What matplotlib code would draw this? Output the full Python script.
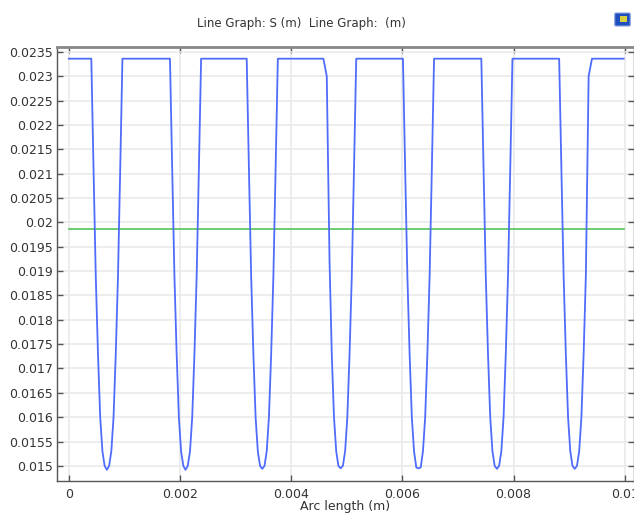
import matplotlib
matplotlib.use("Agg")
import matplotlib.pyplot as plt
from matplotlib.patches import FancyBboxPatch, Rectangle

plt.rcParams['font.family'] = 'DejaVu Sans'
plt.rcParams['font.size'] = 9

# blue curve S (m) along arc length
arc_len = [0.0,
           0.000405, 0.000445, 0.000485, 0.000525, 0.000565, 0.000605, 0.000645, 0.000685,
           0.000725, 0.000765, 0.000805, 0.000845, 0.000885, 0.000925, 0.000965,
           0.00182, 0.00186, 0.00190, 0.00194, 0.00198, 0.00202, 0.00206, 0.00210,
           0.00214, 0.00218, 0.00222, 0.00226, 0.00230, 0.00234, 0.00238,
           0.00320, 0.00324, 0.00328, 0.00332, 0.00336, 0.00340, 0.00344, 0.00348,
           0.00352, 0.00356, 0.00360, 0.00364, 0.00368, 0.00372, 0.00376,
           0.00458, 0.00464, 0.00469, 0.00473, 0.00477, 0.00481, 0.00485, 0.00489,
           0.00493, 0.00497, 0.00501, 0.00505, 0.00509, 0.00513, 0.00517,
           0.00601, 0.00605, 0.00609, 0.00613, 0.00617, 0.00621, 0.00625, 0.00629,
           0.00633, 0.00637, 0.00641, 0.00645, 0.00649, 0.00653, 0.00657,
           0.00742, 0.00746, 0.00750, 0.00754, 0.00758, 0.00762, 0.00766, 0.00770,
           0.00774, 0.00778, 0.00782, 0.00786, 0.00790, 0.00794, 0.00798,
           0.00882, 0.00886, 0.00890, 0.00894, 0.00898, 0.00902, 0.00906, 0.00910,
           0.00914, 0.00918, 0.00922, 0.00926, 0.00930, 0.00935, 0.00941,
           0.00998]
s_val = [0.02336,
         0.02336, 0.0211, 0.0189, 0.0173, 0.0160, 0.0153, 0.0150, 0.01492,
         0.0150, 0.0153, 0.0160, 0.0173, 0.0189, 0.0211, 0.02336,
         0.02336, 0.0211, 0.0189, 0.0173, 0.0160, 0.0153, 0.0150, 0.01492,
         0.0150, 0.0153, 0.0160, 0.0173, 0.0189, 0.0211, 0.02336,
         0.02336, 0.0211, 0.0189, 0.0173, 0.0160, 0.0153, 0.0150, 0.01494,
         0.0150, 0.0153, 0.0160, 0.0173, 0.0189, 0.0211, 0.02336,
         0.02336, 0.0230, 0.0192, 0.0173, 0.0160, 0.0153, 0.0150, 0.01495,
         0.0150, 0.0153, 0.0160, 0.0173, 0.0189, 0.0211, 0.02336,
         0.02336, 0.0211, 0.0189, 0.0173, 0.0160, 0.0153, 0.01497, 0.01495,
         0.01497, 0.0153, 0.0160, 0.0173, 0.0189, 0.0211, 0.02336,
         0.02336, 0.0211, 0.0189, 0.0173, 0.0160, 0.0153, 0.0150, 0.01494,
         0.0150, 0.0153, 0.0160, 0.0173, 0.0189, 0.0211, 0.02336,
         0.02336, 0.0211, 0.0189, 0.0173, 0.0160, 0.0153, 0.0150, 0.01494,
         0.0150, 0.0153, 0.0160, 0.0173, 0.0189, 0.0230, 0.02336,
         0.02336]

# green constant line
green_x = [0.0, 0.00998]
green_y = [0.01987, 0.01987]

xticks = [0, 0.002, 0.004, 0.006, 0.008, 0.01]
xlabels = ['0', '0.002', '0.004', '0.006', '0.008', '0.01']
yticks = [0.015, 0.0155, 0.016, 0.0165, 0.017, 0.0175, 0.018, 0.0185, 0.019,
          0.0195, 0.02, 0.0205, 0.021, 0.0215, 0.022, 0.0225, 0.023, 0.0235]
ylabels = ['0.015', '0.0155', '0.016', '0.0165', '0.017', '0.0175', '0.018', '0.0185', '0.019',
           '0.0195', '0.02', '0.0205', '0.021', '0.0215', '0.022', '0.0225', '0.023', '0.0235']

fig = plt.figure(figsize=(6.34, 5.14), dpi=100)
ax = fig.add_axes([57/634, 1-481/514, (634-57)/634, (481-47)/514])

ax.plot(arc_len, s_val, color='#4f6cfb', lw=1.3, zorder=3)
ax.plot(green_x, green_y, color='#62c862', lw=1.3, zorder=2)

ax.set_xlim(-0.000212, 0.010166)
ax.set_ylim(0.01469, 0.0236)
ax.set_xticks(xticks)
ax.set_xticklabels(xlabels)
ax.set_yticks(yticks)
ax.set_yticklabels(ylabels)
ax.grid(True, color='#e8e8e8', lw=1.1, zorder=0)
ax.set_axisbelow(True)

ax.tick_params(direction='in', length=4, width=1, colors='#555555', labelcolor='#333333',
               top=True, right=True)
ax.tick_params(axis='y', pad=3)
ax.tick_params(axis='x', pad=5)
for side in ['left', 'bottom', 'right']:
    ax.spines[side].set_color('#555555')
    ax.spines[side].set_linewidth(1)
ax.spines['top'].set_color('#888888')
ax.spines['top'].set_linewidth(2)

ax.set_xlabel('Arc length (m)', color='#333333', labelpad=-1)

fig.text(301/634, 1-23/514, 'Line Graph: S (m)  Line Graph:  (m)', ha='center', va='center',
         fontsize=8.5, color='#333333')

# small toolbar icon at the top right
fig.patches.append(FancyBboxPatch((616/634, 1-25/514), 13/634, 11/514, boxstyle='round,pad=0.002',
                                  transform=fig.transFigure, fc='#1f4fbf', ec='#8fa8e0', lw=0.8))
fig.patches.append(Rectangle((620/634, 1-22/514), 7/634, 6/514, transform=fig.transFigure,
                             fc='#d8d040', ec='none'))

fig.savefig('out.png', dpi=100)
